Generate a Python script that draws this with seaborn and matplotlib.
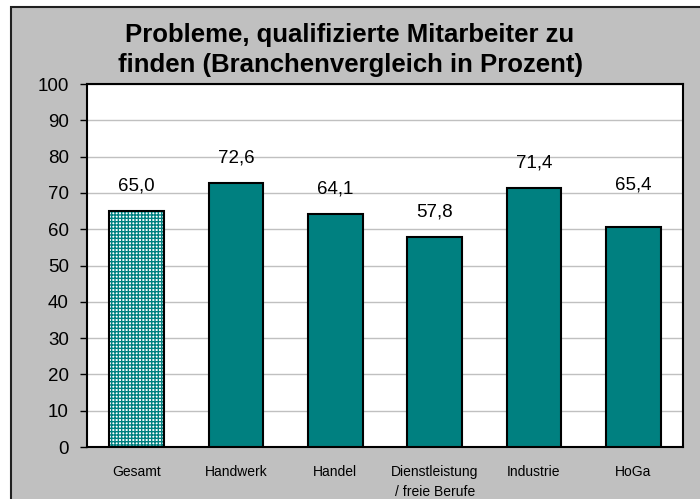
import matplotlib
matplotlib.use("Agg")
import matplotlib.pyplot as plt
from matplotlib.patches import Rectangle
import seaborn as sns
import pandas as pd

# Data
categories = ["Gesamt", "Handwerk", "Handel", "Dienstleistung\n/ freie Berufe", "Industrie", "HoGa"]
bar_heights = [65.0, 72.6, 64.1, 57.8, 71.4, 60.7]
value_labels = [65.0, 72.6, 64.1, 57.8, 71.4, 65.4]
y_ticks = [0, 10, 20, 30, 40, 50, 60, 70, 80, 90, 100]

teal = "#008080"
grey = "#c0c0c0"

sns.set_theme(style="white")
plt.rcParams["font.family"] = ["Liberation Sans", "DejaVu Sans"]
plt.rcParams["text.color"] = "black"
plt.rcParams["xtick.color"] = "black"
plt.rcParams["ytick.color"] = "black"
plt.rcParams["hatch.linewidth"] = 1.0

fig = plt.figure(figsize=(7, 4.99), dpi=100)
fig.patch.set_facecolor("white")
# grey chart area with dark border at left/top
fig.patches.append(Rectangle((11 / 700, -0.01), 1.0, 1 - 7 / 499 + 0.01,
                             transform=fig.transFigure, facecolor=grey,
                             edgecolor="#202020", linewidth=1.5, zorder=-5))

ax = fig.add_axes([87 / 700, 1 - 447 / 499, (683 - 87) / 700, (447 - 84) / 499])
ax.set_facecolor("white")

df = pd.DataFrame({"Branche": categories, "Wert": bar_heights})
sns.barplot(data=df, x="Branche", y="Wert", color=teal, width=0.55,
            edgecolor="black", linewidth=1.5, saturation=1, ax=ax, zorder=3)

# dotted first bar (Gesamt)
first = ax.patches[0]
first.set_facecolor("white")
first.set_hatch("+++++")
try:
    first.set_hatchcolor(teal)
except AttributeError:
    first.set_edgecolor(teal)
first.set_linewidth(0)
ax.add_patch(Rectangle(first.get_xy(), first.get_width(), first.get_height(),
                       fill=False, edgecolor="black", linewidth=1.5, zorder=4))

for i, v in enumerate(value_labels):
    ax.annotate(f"{v:.1f}".replace(".", ","), (i, v), xytext=(0, 18),
                textcoords="offset points", ha="center", va="center",
                fontsize=13.5, color="black")

ax.set_ylim(0, 100)
ax.set_xlim(-0.5, len(categories) - 0.5)
ax.set_yticks(y_ticks)
ax.set_yticklabels([str(t) for t in y_ticks], fontsize=13.5)
ax.yaxis.grid(True, color=grey, linewidth=1, zorder=0)
ax.set_axisbelow(True)

ax.set_xticks(range(len(categories)))
ax.set_xticklabels(categories, fontsize=10, linespacing=1.5)
ax.set_xticks([i - 0.5 for i in range(len(categories) + 1)], minor=True)
ax.tick_params(axis="x", which="major", length=0, pad=13)
ax.tick_params(axis="x", which="minor", length=5, width=1, color="black", direction="out")
ax.tick_params(axis="y", length=5, width=1, color="black", direction="out", pad=8, left=True)
ax.set_xlabel("")
ax.set_ylabel("")

for s in ax.spines.values():
    s.set_visible(True)
    s.set_color("black")
    s.set_linewidth(1.5)

fig.text(0.5, 1 - 35 / 499, "Probleme, qualifizierte Mitarbeiter zu",
         ha="center", va="center", fontsize=18.5, fontweight="bold")
fig.text(0.5, 1 - 65 / 499, "finden (Branchenvergleich in Prozent)",
         ha="center", va="center", fontsize=18.5, fontweight="bold")

fig.savefig("out.png", dpi=100)
